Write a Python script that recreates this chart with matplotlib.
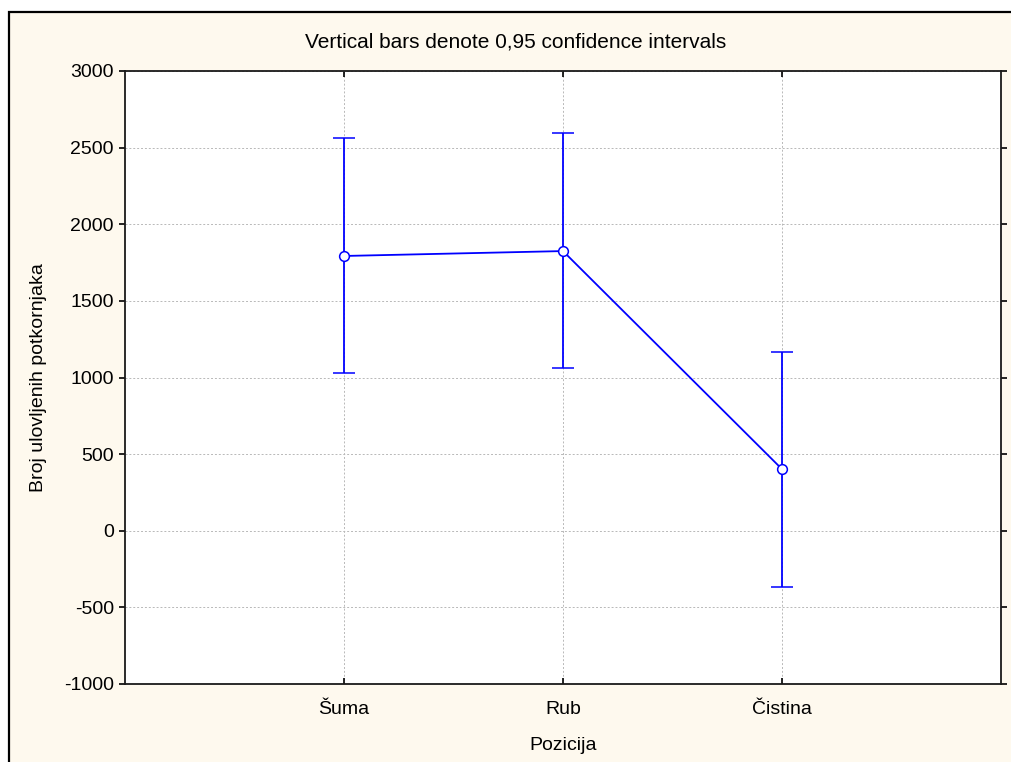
import matplotlib as mpl
import matplotlib.pyplot as plt
from matplotlib.patches import Rectangle

mpl.rcParams.update(
    {
        "font.family": ["Liberation Sans", "DejaVu Sans"],
        "font.size": 14,
    }
)

# --- data ---
categories = ["Šuma", "Rub", "Čistina"]
means = [1793, 1825, 402]
ci_low = [1031, 1063, -366]
ci_high = [2561, 2593, 1164]
y_ticks = [-1000, -500, 0, 500, 1000, 1500, 2000, 2500, 3000]

W, H = 1011, 762
fig = plt.figure(figsize=(W / 100, H / 100), dpi=100, facecolor="white")

# cream panel with black frame (left/top edges visible)
fig.add_artist(
    Rectangle(
        (9 / W, -0.1), 1.2, (H - 12) / H + 0.1,
        transform=fig.transFigure, facecolor="#fef9ee",
        edgecolor="black", lw=1.6, zorder=0,
    )
)

ax = fig.add_axes([125 / W, 1 - 684 / H, (1001 - 125) / W, (684 - 71) / H])
ax.set_facecolor("white")

x = list(range(1, len(categories) + 1))
err_lo = [m - lo for m, lo in zip(means, ci_low)]
err_hi = [hi - m for m, hi in zip(means, ci_high)]
ax.errorbar(
    x, means, yerr=[err_lo, err_hi],
    color="#0000ff", lw=1.3, elinewidth=1.3, capsize=8, capthick=1.3,
    marker="o", markersize=7, markerfacecolor="white",
    markeredgecolor="#0000ff", markeredgewidth=1.1, zorder=3,
)

ax.set_xlim(0, len(categories) + 1)
ax.set_ylim(-1000, 3000)
ax.set_xticks(x)
ax.set_xticklabels(categories)
ax.set_yticks(y_ticks)
ax.set_yticklabels([str(v) for v in y_ticks])

ax.grid(True, color="#b8b8b8", linestyle=(0, (2, 2)), lw=0.7)
ax.set_axisbelow(True)
for s in ax.spines.values():
    s.set_linewidth(1.3)
    s.set_color("#1a1a1a")

ax.tick_params(axis="y", direction="out", length=4, width=1.2, right=True, pad=4)
ax.tick_params(axis="x", direction="in", length=4, width=1.2, top=True, pad=12)

ax.set_xlabel("Pozicija")
ax.set_ylabel("Broj ulovljenih potkornjaka", labelpad=12)
ax.xaxis.set_label_coords(0.5, -0.087)
fig.text(516 / W, 1 - 42 / H, "Vertical bars denote 0,95 confidence intervals",
         ha="center", va="center", fontsize=15)

fig.savefig("out.png", dpi=100, facecolor=fig.get_facecolor())
